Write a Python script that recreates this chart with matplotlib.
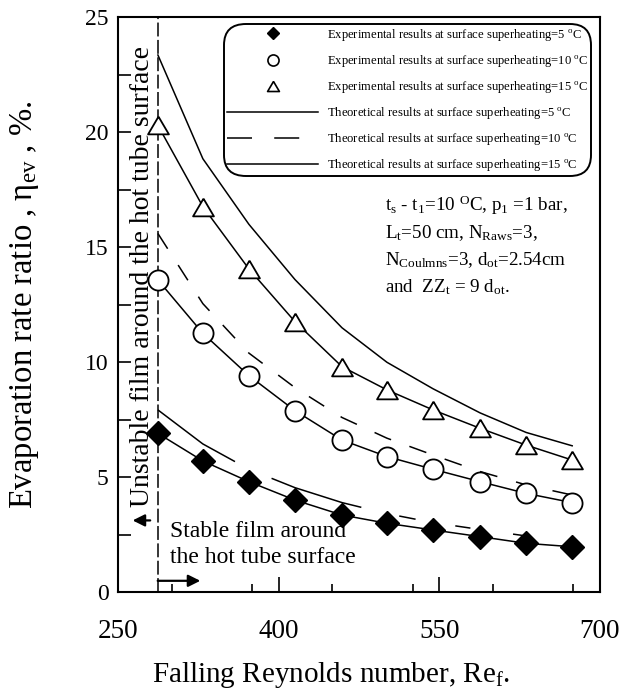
"""
Evaporation rate ratio vs falling Reynolds number
"""
import matplotlib
matplotlib.use('Agg')
import matplotlib.pyplot as plt
from matplotlib.lines import Line2D
from matplotlib.ticker import MultipleLocator

plt.rcParams['font.family'] = ['Liberation Serif', 'DejaVu Serif']
plt.rcParams['mathtext.fontset'] = 'custom'
plt.rcParams['mathtext.rm'] = 'Liberation Serif'
plt.rcParams['mathtext.it'] = 'Liberation Serif:italic'
plt.rcParams['mathtext.bf'] = 'Liberation Serif:bold'
plt.rcParams['lines.scale_dashes'] = False

# Data
re_f = [287, 329, 372, 415, 459, 501, 544, 588, 631, 674]
exp_5 = [6.91, 5.71, 4.81, 4.01, 3.36, 3.00, 2.71, 2.42, 2.13, 1.98]
exp_10 = [13.58, 11.26, 9.42, 7.90, 6.62, 5.90, 5.35, 4.81, 4.30, 3.90]
exp_15 = [20.3, 16.77, 14.06, 11.77, 9.81, 8.80, 7.93, 7.13, 6.40, 5.75]
theo_5 = [7.93, 6.45, 5.35, 4.55, 3.90, 3.42, 3.03, 2.73, 2.45]
theo_10 = [15.6, 12.55, 10.4, 8.9, 7.6, 6.7, 5.97, 5.25, 4.67, 4.23]
theo_15 = [23.36, 18.85, 16.0, 13.6, 11.5, 10.0, 8.85, 7.8, 6.95, 6.37]
re_limit = 287

x_ticks = [250, 400, 550, 700]
y_ticks = [0, 5, 10, 15, 20, 25]

legend_labels = [
    r'Experimental results at surface superheating=5 $^\mathrm{o}$C',
    r'Experimental results at surface superheating=10 $^\mathrm{o}$C',
    r'Experimental results at surface superheating=15 $^\mathrm{o}$C',
    r'Theoretical results at surface superheating=5 $^\mathrm{o}$C',
    r'Theoretical results at surface superheating=10 $^\mathrm{o}$C',
    r'Theoretical results at surface superheating=15 $^\mathrm{o}$C',
]

W, H = 623, 689
fig = plt.figure(figsize=(W / 100, H / 100), dpi=100)
ax = fig.add_axes([118.3 / W, 1 - 592.3 / H, (600 - 118.3) / W, (592.3 - 17.3) / H])

dash_10 = (0, (13, 14))
dash_5 = (0, (67, 29, 68, 28, 12, 29, 11, 31, 9, 200))

# boundary of stable film region
ax.axvline(re_limit, color='k', lw=1.1, linestyle=(0, (10, 2.5)))

# theoretical curves
ax.plot(re_f[:len(theo_5)], theo_5, color='k', lw=1.1, linestyle=dash_5)
ax.plot(re_f, theo_10, color='k', lw=1.1, linestyle=dash_10)
ax.plot(re_f, theo_15, color='k', lw=1.1)

# experimental points with fitted lines
tri = [(0, 0.85), (-1, -0.85), (1, -0.85), (0, 0.85)]
ax.plot(re_f, exp_5, color='k', lw=1.1, marker='D', ms=12, mfc='k', mec='k')
ax.plot(re_f, exp_10, color='k', lw=1.1, marker='o', ms=14.5, mfc='white', mec='k', mew=1.3)
ax.plot(re_f, exp_15, color='k', lw=1.1, marker=tri, ms=15, mfc='white', mec='k', mew=1.3)

ax.set_xlim(250, 700)
ax.set_ylim(0, 25)
ax.set_xticks(x_ticks)
ax.set_yticks(y_ticks)
ax.xaxis.set_minor_locator(MultipleLocator(75))
ax.yaxis.set_minor_locator(MultipleLocator(2.5))
ax.tick_params(axis='both', which='both', direction='in', width=1.2)
ax.tick_params(axis='x', which='major', length=11, labelsize=19.5, pad=19)
ax.tick_params(axis='x', which='minor', length=6)
ax.tick_params(axis='y', which='both', length=9.5, labelsize=17, pad=7)
for sp in ax.spines.values():
    sp.set_linewidth(1.5)

ax.set_ylabel(r'Evaporation rate ratio , η$_\mathrm{ev}$ , %.', fontsize=23.5)
ax.yaxis.set_label_coords(-0.16, 0.5)
fig.text(331 / W, (H - 682) / H, r'Falling Reynolds number, Re$_\mathrm{f}$.',
         fontsize=21, ha='center', va='baseline')

# stability annotations
ax.text(0.05, 0.148, 'Unstable film around the hot tube surface', transform=ax.transAxes,
        rotation=90, fontsize=20, ha='center', va='bottom')
ax.annotate('', xy=(0.024, 0.125), xytext=(0.072, 0.125), xycoords='axes fraction',
            arrowprops=dict(arrowstyle='-|>', color='k', lw=1.6, mutation_scale=18))
ax.annotate('', xy=(0.176, 0.02), xytext=(0.076, 0.02), xycoords='axes fraction',
            arrowprops=dict(arrowstyle='-|>', color='k', lw=1.6, mutation_scale=18))
ax.text(0.107, 0.105, 'Stable film around', transform=ax.transAxes,
        fontsize=17, ha='left', va='center')
ax.text(0.107, 0.061, 'the hot tube surface', transform=ax.transAxes,
        fontsize=17, ha='left', va='center')

# operating conditions
cond_lines = [
    r't$_\mathrm{s}$ - t$_\mathrm{1}$=10 $^\mathrm{O}$C, p$_\mathrm{1}$ =1 bar,',
    r'L$_\mathrm{t}$=50 cm, N$_\mathrm{Raws}$=3,',
    r'N$_\mathrm{Coulmns}$=3, d$_\mathrm{ot}$=2.54cm',
    r'and  ZZ$_\mathrm{t}$ = 9 d$_\mathrm{ot}$.',
]
for i, line in enumerate(cond_lines):
    fig.text(385 / W, 1 - (211 + 27 * i) / H, line, fontsize=13.7, ha='left', va='baseline')

# legend
handles = [
    Line2D([], [], ls='none', marker='D', ms=6.5, mfc='k', mec='k'),
    Line2D([], [], ls='none', marker='o', ms=8, mfc='white', mec='k', mew=1.2),
    Line2D([], [], ls='none', marker=tri, ms=8.5, mfc='white', mec='k', mew=1.2),
    Line2D([], [], color='k', lw=1.1),
    Line2D([], [], color='k', lw=1.1, linestyle=(0, (18, 16))),
    Line2D([], [], color='k', lw=1.1),
]
leg = ax.legend(handles, legend_labels, loc='upper right',
                bbox_to_anchor=(590 / W, 1 - 25 / H), bbox_transform=fig.transFigure,
                fontsize=9.05, frameon=True, fancybox=True, framealpha=1,
                handlelength=7.2, handletextpad=0.72, labelspacing=0.8,
                borderpad=0.15, borderaxespad=0)
frame = leg.get_frame()
frame.set_edgecolor('k')
frame.set_linewidth(1.4)
frame.set_boxstyle('round', pad=0.1, rounding_size=1.7)

fig.savefig('out.png', dpi=100)
